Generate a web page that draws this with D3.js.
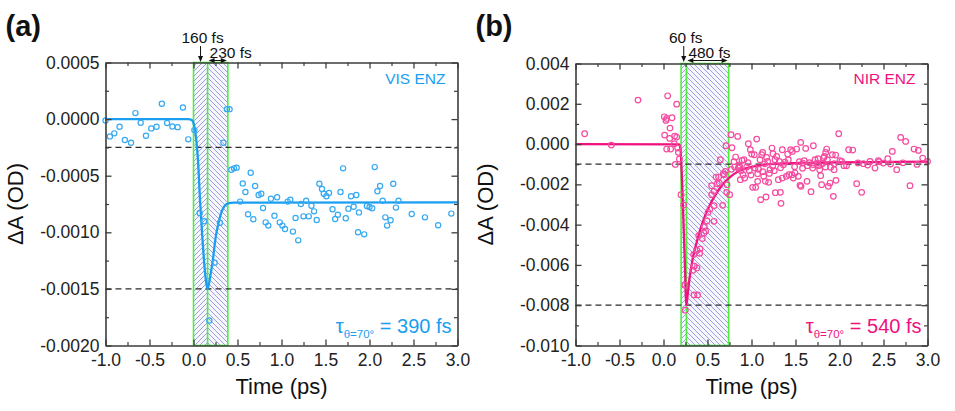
<!DOCTYPE html>
<html>
<head>
<meta charset="utf-8">
<script src="https://cdn.jsdelivr.net/npm/d3@7"></script>
<style>
  body { margin: 0; background: #fff; }
  svg text { font-family: "Liberation Sans", Arial, sans-serif; }
</style>
</head>
<body>
<svg id="chart" width="955" height="411"></svg>
<script>
// ---------- shared axis values ----------
const timeTicks = [-1.0, -0.5, 0.0, 0.5, 1.0, 1.5, 2.0, 2.5, 3.0];
const timeTickLabels = ["-1.0", "-0.5", "0.0", "0.5", "1.0", "1.5", "2.0", "2.5", "3.0"];
const timeMinorTicks = [-0.75, -0.25, 0.25, 0.75, 1.25, 1.75, 2.25, 2.75];

// ---------- panel (a): VIS ENZ ----------
const visTicks = [0.0005, 0.0, -0.0005, -0.0010, -0.0015, -0.0020];
const visTickLabels = ["0.0005", "0.0000", "-0.0005", "-0.0010", "-0.0015", "-0.0020"];
const visMinorTicks = [0.00025, -0.00025, -0.00075, -0.00125, -0.00175];
const visGuides = [-0.00025, -0.0015];
const visWindow = [0.0, 0.16, 0.39];          // start, 160 fs, +230 fs
const visTime = [-1.00, -0.95, -0.90, -0.84, -0.78, -0.71, -0.66, -0.60, -0.54, -0.48, -0.42, -0.36, -0.30, -0.24, -0.18, -0.12, -0.06, 0.01,
  0.07, 0.12, 0.18, 0.24, 0.30, 0.34, 0.38, 0.41, 0.43, 0.46, 0.49, 0.53, 0.56, 0.59, 0.62, 0.65, 0.68, 0.70, 0.74, 0.77, 0.79, 0.82, 0.85, 0.88,
  0.92, 0.95, 0.98, 1.01, 1.04, 1.07, 1.10, 1.13, 1.16, 1.19, 1.22, 1.25, 1.28, 1.31, 1.34, 1.37, 1.40, 1.43, 1.46, 1.48, 1.51, 1.54, 1.58, 1.61,
  1.64, 1.67, 1.70, 1.73, 1.76, 1.79, 1.82, 1.85, 1.87, 1.88, 1.94, 1.97, 2.00, 2.03, 2.06, 2.09, 2.12, 2.15, 2.18, 2.20, 2.24, 2.27, 2.30, 2.33,
  2.48, 2.63, 2.78, 2.93];
const visDA = [-0.000012, -0.000153, -0.000126, -0.000068, -0.000185, -0.000209, 0.000053, -0.000032, -0.000147, -0.000082, -0.000068, 0.000135,
  -0.000035, -0.000065, -0.000071, 0.000103, -0.000179, -0.000097,
  -0.000829, -0.000903, -0.001779, -0.001268, -0.000915, -0.000209, 0.000088, 0.000088, -0.000447, -0.000435, -0.000429, -0.000729, -0.000568,
  -0.000644, -0.000841, -0.000474, -0.000885, -0.000591, -0.000671, -0.000659, -0.000785, -0.000912, -0.000941, -0.000703, -0.000853, -0.000691,
  -0.000912, -0.000941, -0.000971, -0.000729, -0.000712, -0.000994, -0.000874, -0.001071, -0.000750, -0.000859, -0.000721, -0.000859, -0.000765,
  -0.000815, -0.000891, -0.000571, -0.000618, -0.000659, -0.000682, -0.000653, -0.000797, -0.000882, -0.000844, -0.000644, -0.000435, -0.000876,
  -0.000791, -0.000682, -0.000774, -0.000671, -0.001000, -0.000824, -0.001018, -0.000768, -0.000776, -0.000788, -0.000424, -0.000638, -0.000591,
  -0.000721, -0.000868, -0.000941, -0.000894, -0.000571, -0.000782, -0.000721, -0.000838, -0.000868, -0.000938, -0.000835];
const visFitTime = [-1.0, -0.06, -0.02, 0.006, 0.028, 0.051, 0.074, 0.10, 0.125, 0.145, 0.16, 0.19, 0.22, 0.25, 0.285, 0.32, 0.355, 0.395, 0.45, 3.0];
const visFitDA = [0.0, 0.0, -0.000009, -0.000053, -0.000156, -0.000362, -0.000715, -0.001038, -0.001303, -0.00145, -0.0015, -0.001391,
  -0.001244, -0.001053, -0.000915, -0.000818, -0.000765, -0.000744, -0.000738, -0.000735];

// ---------- panel (b): NIR ENZ ----------
const nirTicks = [0.004, 0.002, 0.000, -0.002, -0.004, -0.006, -0.008, -0.010];
const nirTickLabels = ["0.004", "0.002", "0.000", "-0.002", "-0.004", "-0.006", "-0.008", "-0.010"];
const nirMinorTicks = [0.003, 0.001, -0.001, -0.003, -0.005, -0.007, -0.009];
const nirGuides = [-0.001, -0.008];
const nirWindow = [0.20, 0.26, 0.74];         // start, 60 fs, +480 fs
const nirTime = [-0.896, -0.593, -0.290, 0.009, 0.047, 0.036, 0.097, 0.028, 0.074, 0.013, 0.070, 0.127, 0.150, 0.150, 0.036, 0.081, 0.123,
  0.161, 0.169, 0.180, 0.134,
  0.199, 0.229, 0.244, 0.248, 0.347, 0.388, 0.335, 0.381, 0.350, 0.343, 0.381, 0.415, 0.411, 0.400, 0.441, 0.460, 0.479, 0.464, 0.494, 0.574,
  0.506, 0.528, 0.574, 0.672, 0.547, 0.574, 0.547, 0.612, 0.634, 0.597, 0.627, 0.680, 0.703, 0.722, 0.718, 0.752, 0.646, 0.710, 0.691,
  0.767, 0.843, 0.778, 0.820, 0.801, 0.771, 0.809, 0.850, 0.873, 0.892, 0.881, 0.903, 0.922, 0.866, 0.964, 0.987, 1.002, 1.032, 0.945, 0.975,
  0.994, 1.013, 1.059, 1.070, 1.047, 1.040, 1.070, 1.116, 1.127, 1.104, 1.165, 1.172, 1.184, 1.138, 1.157, 1.195, 1.203, 1.127, 1.233, 1.244,
  1.267, 1.286, 1.259, 1.271, 1.316, 1.335, 1.328, 1.305, 1.350, 1.350, 1.411, 1.445, 1.464, 1.513, 1.396, 1.426, 1.460, 1.475, 1.494, 1.532,
  1.559, 1.616, 1.581, 1.600, 1.551, 1.563, 1.631, 1.657, 1.676, 1.703, 1.695, 1.722, 1.756, 1.744, 1.775, 1.786, 1.797, 1.820, 1.828, 1.843,
  1.854, 1.862, 1.873, 1.892, 1.930, 1.919, 1.956, 1.941, 1.938, 1.960, 1.991, 2.006, 2.051, 2.104, 2.150, 2.195, 2.252, 2.271, 2.347, 2.403,
  2.441, 2.498, 2.548, 2.600, 2.650, 2.695, 2.752, 2.801, 2.847, 2.896, 2.945, 3.000,
  1.544, 1.635, 1.763, 1.839, 2.025, 1.362, 1.210, 1.097, 0.915, 1.419,
  0.86, 0.96, 1.08, 1.15, 1.24, 1.33, 1.38, 1.49, 1.58, 1.70, 1.81, 1.90, 2.08, 2.21, 2.32, 2.45, 2.58, 2.72, 2.88];
const nirDA = [0.000512, -0.000050, 0.002182, 0.001355, 0.002397, 0.001273, 0.001306, 0.001174, 0.000793, 0.000446, 0.000281, 0.000397,
  0.001983, 0.000347, -0.000248, -0.000248, 0.000017, -0.000198, -0.000413, -0.000744, -0.001008,
  -0.002512, -0.003025, -0.007008, -0.008248, -0.007488, -0.007488, -0.006264, -0.006149, -0.006066, -0.005488, -0.005273, -0.005207,
  -0.005421, -0.004545, -0.004694, -0.004413, -0.004314, -0.004099, -0.003818, -0.003835, -0.003388, -0.003223, -0.003058, -0.003041,
  -0.002512, -0.002347, -0.002066, -0.001967, -0.001934, -0.001636, -0.001636, -0.001471, -0.001355, -0.002017, -0.002397, -0.002512,
  -0.000777, -0.000083, -0.001521,
  0.000463, 0.000380, -0.000182, -0.000645, -0.000876, -0.001256, -0.001140, -0.001190, -0.001769, -0.000810, -0.001322, -0.001521,
  -0.001686, -0.001140, 0.000017, -0.000281, -0.000496, -0.000529, -0.001140, -0.001322, -0.001537, -0.002149, 0.000248, -0.001851,
  -0.002149, -0.001190, -0.001471, -0.000529, -0.000413, -0.002760, -0.002628, -0.000661, -0.000860, -0.001603, -0.001851, -0.001901,
  -0.001455, -0.001372, -0.000198, -0.000479, -0.000777, -0.000612, -0.001322, -0.002413, -0.000860, -0.002942, -0.002397, -0.001769,
  -0.001686, -0.000281, -0.000496, -0.000281, -0.000364, -0.000248, -0.001603, -0.001521, -0.001521, -0.001686, -0.001438, -0.001603,
  0.000083, -0.000215, -0.000942, -0.000826, -0.002050, -0.002099, -0.001851, -0.000926, -0.002364, -0.000083, -0.001190, -0.000777,
  -0.000727, -0.000942, -0.001273, -0.001570, -0.002017, -0.000694, -0.000612, -0.000413, -0.000248, -0.000777, -0.002099, -0.001934,
  -0.002595, -0.000529, -0.000545, -0.000975, -0.001273, -0.001802, 0.000512, -0.000826, -0.001074, -0.000281, -0.000298, -0.001967,
  -0.002397, -0.000975, -0.000860, -0.001190, -0.000826, -0.000942, -0.000727, -0.000364, -0.001273, 0.000331, 0.000132, -0.002066,
  -0.000248, -0.000314, -0.000694, -0.000860,
  -0.000876, -0.001074, -0.001074, -0.001140, -0.000860, -0.001025, -0.001273, -0.000777, -0.000777, -0.000777,
  -0.00105, -0.00092, -0.00125, -0.00098, -0.00110, -0.00118, -0.00090, -0.00112, -0.00120, -0.00102, -0.00096, -0.00115, -0.00108,
  -0.00094, -0.00104, -0.00088, -0.00099, -0.00093, -0.00101];
const nirFitTime = [-1.0, 0.180, 0.195, 0.210, 0.225, 0.241, 0.26, 0.275, 0.294, 0.320, 0.347, 0.377, 0.415, 0.453, 0.491, 0.528, 0.585,
  0.642, 0.699, 0.756, 0.831, 0.926, 1.040, 1.210, 1.513, 1.968, 3.0];
const nirFitDA = [0.0, -0.000017, -0.000364, -0.001769, -0.003587, -0.005736, -0.0080, -0.007471, -0.006727, -0.005983, -0.005372,
  -0.004876, -0.004281, -0.003785, -0.003355, -0.003008, -0.002562, -0.002182, -0.001868, -0.001636, -0.001405, -0.001223, -0.001091,
  -0.000992, -0.000942, -0.000909, -0.000876];

// ---------- drawing ----------
const svg = d3.select("#chart");
const defs = svg.append("defs");

function hatch(id, forward) {
  const s = 5;
  const p = defs.append("pattern").attr("id", id)
    .attr("patternUnits", "userSpaceOnUse").attr("width", s).attr("height", s);
  p.append("rect").attr("width", s).attr("height", s).attr("fill", "#f6f6ff");
  p.append("path")
    .attr("d", forward
      ? `M0,${s} L${s},0 M-1,1 L1,-1 M${s - 1},${s + 1} L${s + 1},${s - 1}`
      : `M0,0 L${s},${s} M-1,${s - 1} L1,${s + 1} M${s - 1},-1 L${s + 1},1`)
    .attr("stroke", "#8282d6").attr("stroke-width", 0.75);
}
hatch("hatchFwd", true);
hatch("hatchBack", false);

const axisColor = "#3c3c3c";
const greenEdge = "#4cf03a";

function panel(cfg) {
  const x = d3.scaleLinear().domain([-1, 3]).range([cfg.left, cfg.right]);
  const y = d3.scaleLinear().domain(cfg.yDomain).range([cfg.bottom, cfg.top]);
  const g = svg.append("g");

  // shaded time window, two hatched sections
  const w = cfg.window;
  g.append("rect").attr("x", x(w[0])).attr("y", cfg.top).attr("width", x(w[1]) - x(w[0]))
    .attr("height", cfg.bottom - cfg.top).attr("fill", "url(#hatchFwd)");
  g.append("rect").attr("x", x(w[1])).attr("y", cfg.top).attr("width", x(w[2]) - x(w[1]))
    .attr("height", cfg.bottom - cfg.top).attr("fill", "url(#hatchBack)");
  g.append("rect").attr("x", x(w[0])).attr("y", cfg.top).attr("width", x(w[2]) - x(w[0]))
    .attr("height", cfg.bottom - cfg.top).attr("fill", "none").attr("stroke", greenEdge).attr("stroke-width", 1.6);
  g.append("line").attr("x1", x(w[1])).attr("x2", x(w[1])).attr("y1", cfg.top).attr("y2", cfg.bottom)
    .attr("stroke", greenEdge).attr("stroke-width", 1.6);

  // dashed guides
  g.selectAll("line.guide").data(cfg.guides).join("line").attr("class", "guide")
    .attr("x1", cfg.left).attr("x2", cfg.right).attr("y1", d => y(d)).attr("y2", d => y(d))
    .attr("stroke", "#2a2a2a").attr("stroke-width", 1.3).attr("stroke-dasharray", "6,4");

  // fit curve
  const fit = d3.zip(cfg.fitT, cfg.fitV);
  g.append("path").datum(fit)
    .attr("d", d3.line().x(d => x(d[0])).y(d => y(d[1])).curve(d3.curveMonotoneX))
    .attr("fill", "none").attr("stroke", cfg.lineColor).attr("stroke-width", 2.3);

  // measured points
  const pts = d3.zip(cfg.t, cfg.v);
  g.selectAll("circle").data(pts).join("circle")
    .attr("cx", d => x(d[0])).attr("cy", d => y(d[1])).attr("r", cfg.r)
    .attr("fill", "none").attr("stroke", cfg.dotColor).attr("stroke-width", 1.2);

  // axes with inward ticks on all four sides
  const fmtX = (d) => timeTickLabels[timeTicks.indexOf(d)];
  const fmtY = (d) => cfg.yLabels[cfg.yTicks.indexOf(d)];
  const styleAxis = (sel) => {
    sel.select(".domain").attr("stroke", axisColor).attr("stroke-width", 1.6);
    sel.selectAll(".tick line").attr("stroke", axisColor).attr("stroke-width", 1.3);
    sel.selectAll("text").attr("fill", "#222").style("font-size", "17.5px");
  };
  const minor = (axisFn, scale, vals, translate) => {
    g.append("g").attr("transform", translate)
      .call(axisFn(scale).tickValues(vals).tickSize(-3.5).tickFormat(""))
      .call(s => { s.select(".domain").remove(); s.selectAll(".tick line").attr("stroke", axisColor).attr("stroke-width", 1.2); });
  };
  g.append("g").attr("transform", `translate(0,${cfg.bottom})`)
    .call(d3.axisBottom(x).tickValues(timeTicks).tickSize(-6).tickSizeOuter(0).tickPadding(8).tickFormat(fmtX)).call(styleAxis);
  g.append("g").attr("transform", `translate(0,${cfg.top})`)
    .call(d3.axisTop(x).tickValues(timeTicks).tickSize(-6).tickSizeOuter(0).tickFormat("")).call(styleAxis);
  g.append("g").attr("transform", `translate(${cfg.left},0)`)
    .call(d3.axisLeft(y).tickValues(cfg.yTicks).tickSize(-6).tickSizeOuter(0).tickPadding(6).tickFormat(fmtY)).call(styleAxis);
  g.append("g").attr("transform", `translate(${cfg.right},0)`)
    .call(d3.axisRight(y).tickValues(cfg.yTicks).tickSize(-6).tickSizeOuter(0).tickFormat("")).call(styleAxis);
  minor(d3.axisBottom, x, timeMinorTicks, `translate(0,${cfg.bottom})`);
  minor(d3.axisTop, x, timeMinorTicks, `translate(0,${cfg.top})`);
  minor(d3.axisLeft, y, cfg.yMinor, `translate(${cfg.left},0)`);
  minor(d3.axisRight, y, cfg.yMinor, `translate(${cfg.right},0)`);

  // axis titles
  svg.append("text").attr("x", (cfg.left + cfg.right) / 2).attr("y", 394).attr("text-anchor", "middle")
    .style("font-size", "22px").attr("fill", "#111").text("Time (ps)");
  svg.append("text").attr("transform", `translate(${cfg.left - 83},${(cfg.top + cfg.bottom) / 2}) rotate(-90)`)
    .attr("text-anchor", "middle").style("font-size", "22px").attr("fill", "#111").text("ΔA (OD)");

  // panel letter
  svg.append("text").attr("x", cfg.left - 100).attr("y", 36).style("font-size", "29px").style("font-weight", "bold")
    .attr("fill", "#111").text(cfg.letter);

  // series name
  svg.append("text").attr("x", cfg.right - 12).attr("y", 84).attr("text-anchor", "end")
    .style("font-size", "15.5px").attr("fill", cfg.lineColor).text(cfg.name);

  // lifetime label
  const tl = svg.append("text").attr("x", cfg.right - 6).attr("y", 333).attr("text-anchor", "end")
    .attr("fill", cfg.lineColor).style("font-size", "20px");
  tl.append("tspan").text("τ");
  tl.append("tspan").attr("dy", 5).style("font-size", "11.5px").text("θ=70°");
  tl.append("tspan").attr("dy", -5).text(" = " + cfg.tau);

  // window annotations
  const xa = (x(w[0]) + x(w[1])) / 2;
  svg.append("text").attr("x", xa + 2).attr("y", 43).attr("text-anchor", "middle")
    .style("font-size", "15.5px").attr("fill", "#111").text(cfg.firstLabel);
  svg.append("text").attr("x", x(w[1]) + 2).attr("y", 58)
    .style("font-size", "15.5px").attr("fill", "#111").text(cfg.secondLabel);
  svg.append("line").attr("x1", xa).attr("x2", xa).attr("y1", 46).attr("y2", 58)
    .attr("stroke", "#111").attr("stroke-width", 1);
  svg.append("path").attr("d", `M${xa - 2.5},56 L${xa + 2.5},56 L${xa},62 Z`).attr("fill", "#111");
  const ay = 60.5, x1 = x(w[1]) + 1, x2 = x(w[2]) - 1;
  svg.append("line").attr("x1", x1 + 4).attr("x2", x2 - 4).attr("y1", ay).attr("y2", ay)
    .attr("stroke", "#111").attr("stroke-width", 1);
  svg.append("path").attr("d", `M${x1},${ay} L${x1 + 6},${ay - 2.5} L${x1 + 6},${ay + 2.5} Z`).attr("fill", "#111");
  svg.append("path").attr("d", `M${x2},${ay} L${x2 - 6},${ay - 2.5} L${x2 - 6},${ay + 2.5} Z`).attr("fill", "#111");
}

panel({
  letter: "(a)", name: "VIS ENZ", tau: "390 fs", firstLabel: "160 fs", secondLabel: "230 fs",
  left: 105.5, right: 457.5, top: 62.5, bottom: 345.5,
  yDomain: [-0.0020, 0.0005], yTicks: visTicks, yLabels: visTickLabels, yMinor: visMinorTicks,
  guides: visGuides, window: visWindow,
  t: visTime, v: visDA, fitT: visFitTime, fitV: visFitDA,
  lineColor: "#1a9ef0", dotColor: "#35a9f2", r: 2.6
});

panel({
  letter: "(b)", name: "NIR ENZ", tau: "540 fs", firstLabel: "60 fs", secondLabel: "480 fs",
  left: 575.5, right: 927.5, top: 63.5, bottom: 345.5,
  yDomain: [-0.010, 0.004], yTicks: nirTicks, yLabels: nirTickLabels, yMinor: nirMinorTicks,
  guides: nirGuides, window: nirWindow,
  t: nirTime, v: nirDA, fitT: nirFitTime, fitV: nirFitDA,
  lineColor: "#f0117f", dotColor: "#f54a9f", r: 2.8
});
</script>
</body>
</html>
